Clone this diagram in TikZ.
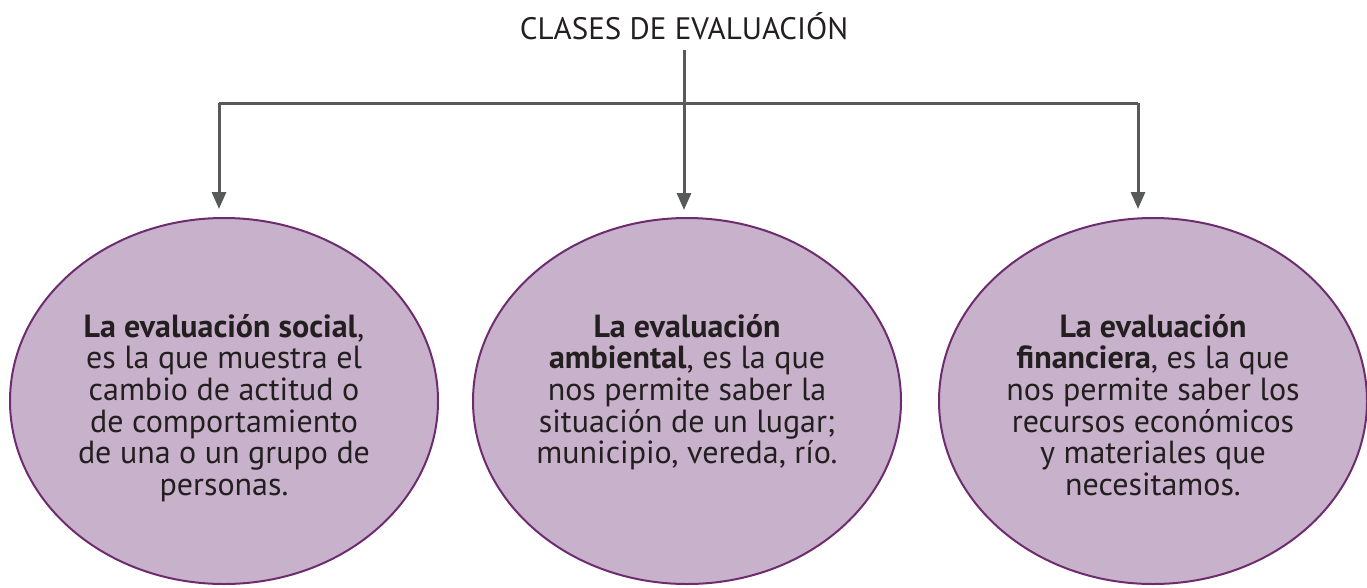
\documentclass[tikz,border=0pt]{standalone}
\usepackage{fontspec}
\setmainfont{PT Sans}
\usetikzlibrary{shapes.geometric,arrows.meta}
\definecolor{ellfill}{HTML}{C8B1CA}
\definecolor{elldraw}{HTML}{6E2C70}
\definecolor{linegray}{HTML}{58595B}
\definecolor{txt}{HTML}{231F20}
\tikzset{
  bubble/.style={ellipse, fill=ellfill, draw=elldraw, line width=2pt, minimum width=428pt, minimum height=366pt, inner sep=0pt},
  bubbletext/.style={anchor=north, align=center, inner sep=0pt, text=txt, font=\fontsize{32}{31.6}\selectfont},
  conn/.style={draw=linegray, line width=3pt},
  arr/.style={conn, -{Triangle[width=14pt,length=17pt]}}
}
\begin{document}
\begin{tikzpicture}[x=1pt,y=-1pt]
\useasboundingbox (0,0) rectangle (1367,587);
\node[text=txt, font=\fontsize{31}{32}\selectfont, inner sep=0pt, text height=21pt, text depth=0pt] (title) at (684,29) {CLASES DE EVALUACIÓN};
\node[bubble] (e1) at (224,401) {};
\node[bubble] (e2) at (687,401) {};
\node[bubble] (e3) at (1153,401) {};
\node[bubbletext] (t1) at (224,314) {\textbf{La evaluación social},\\es la que muestra el\\cambio de actitud o\\de comportamiento\\de una o un grupo de\\personas.};
\node[bubbletext] (t2) at (687,314) {\textbf{La evaluación}\\\textbf{ambiental}, es la que\\nos permite saber la\\situación de un lugar;\\municipio, vereda, río.};
\node[bubbletext] (t3) at (1153,314) {\textbf{La evaluación}\\\textbf{financiera}, es la que\\nos permite saber los\\recursos económicos\\y materiales que\\necesitamos.};
\coordinate (b1) at (219,103);
\coordinate (b3) at (1138,103);
\coordinate (a1) at (219,209);
\coordinate (a2) at (684,210);
\coordinate (a3) at (1138,209);
\draw[conn] (b1) -- (b3);
\draw[arr, shorten <=10pt] (title.south) -- (a2);
\draw[arr] (b1) -- (a1);
\draw[arr] (b3) -- (a3);
\end{tikzpicture}
\end{document}
